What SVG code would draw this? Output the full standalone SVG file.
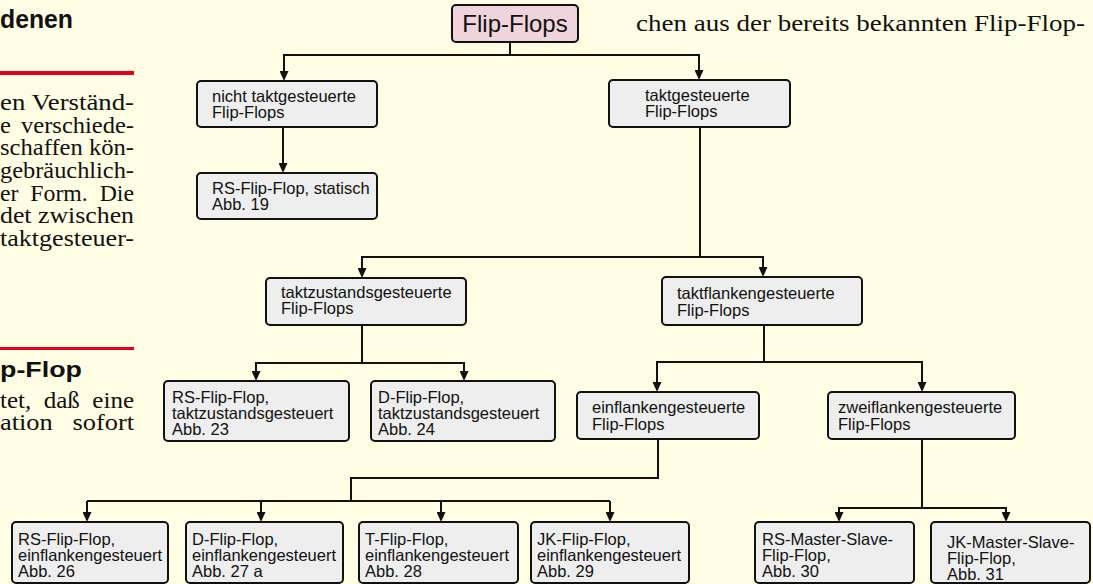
<svg xmlns="http://www.w3.org/2000/svg" width="1093" height="584" viewBox="0 0 1093 584">
<defs>
<style>
.bg{fill:#fffde3}
.box{fill:#eeeeee;stroke:#111;stroke-width:2}
.root{fill:#efd4dc;stroke:#111;stroke-width:2}
.t{font-family:"Liberation Sans",Arial,Helvetica,sans-serif;font-size:16.5px;fill:#111}
.rt{font-family:"Liberation Sans",Arial,Helvetica,sans-serif;font-size:24px;fill:#111;text-anchor:middle}
.c{fill:none;stroke:#111;stroke-width:2}
.ca{fill:none;stroke:#111;stroke-width:2;marker-end:url(#ah)}
.body{font-family:"Liberation Serif","Times New Roman",serif;font-size:24px;fill:#111}
.head{font-family:"Liberation Sans",Arial,Helvetica,sans-serif;font-weight:bold;fill:#111}
.red{fill:#e3001b}
</style>
<marker id="ah" viewBox="0 0 10 9" refX="7" refY="4.5" markerWidth="10" markerHeight="9" markerUnits="userSpaceOnUse" orient="auto">
<path d="M0,0 L10,4.5 L0,9 z" fill="#111"/>
</marker>
</defs>
<rect class="bg" x="0" y="0" width="1093" height="584"/>

<g id="page-text">
<text class="head" x="0" y="28" font-size="25" textLength="73" lengthAdjust="spacingAndGlyphs">denen</text>
<rect class="red" x="0" y="71" width="134" height="4"/>
<text class="body" x="0" y="110" textLength="134" lengthAdjust="spacingAndGlyphs">en Verständ-</text>
<text class="body" x="0" y="133" textLength="134" lengthAdjust="spacingAndGlyphs" word-spacing="4">e verschiede-</text>
<text class="body" x="0" y="155" textLength="134" lengthAdjust="spacingAndGlyphs">schaffen kön-</text>
<text class="body" x="0" y="178" textLength="134" lengthAdjust="spacingAndGlyphs">gebräuchlich-</text>
<text class="body" x="0" y="201" textLength="134" lengthAdjust="spacingAndGlyphs" word-spacing="6">er Form. Die</text>
<text class="body" x="0" y="223" textLength="134" lengthAdjust="spacingAndGlyphs">det zwischen</text>
<text class="body" x="0" y="246" textLength="134" lengthAdjust="spacingAndGlyphs">taktgesteuer-</text>
<rect class="red" x="0" y="347" width="134" height="3"/>
<text class="head" x="0" y="377" font-size="22" textLength="82" lengthAdjust="spacingAndGlyphs">p-Flop</text>
<text class="body" x="0" y="408" textLength="134" lengthAdjust="spacingAndGlyphs" word-spacing="6">tet, daß eine</text>
<text class="body" x="0" y="430" textLength="134" lengthAdjust="spacingAndGlyphs" word-spacing="12">ation sofort</text>
<text class="body" x="636" y="31" font-size="25" textLength="449" lengthAdjust="spacingAndGlyphs">chen aus der bereits bekannten Flip-Flop-</text>
</g>

<g id="connectors">
<path class="c" d="M510,42 V55"/>
<path class="ca" d="M510,55 H284 V78"/>
<path class="ca" d="M510,55 H699 V77"/>
<path class="ca" d="M283,127 V170"/>
<path class="c" d="M700,127 V257"/>
<path class="ca" d="M700,257 H362 V275"/>
<path class="ca" d="M700,257 H763 V274"/>
<path class="c" d="M362,325 V363"/>
<path class="ca" d="M362,363 H256 V378"/>
<path class="ca" d="M362,363 H464 V378"/>
<path class="c" d="M764,325 V362"/>
<path class="ca" d="M764,362 H657 V389"/>
<path class="ca" d="M764,362 H922 V389"/>
<path class="c" d="M658,439 V478 H351 V501"/>
<path class="c" d="M87,501 H610"/>
<path class="ca" d="M87,501 V519"/>
<path class="ca" d="M261,501 V519"/>
<path class="ca" d="M441,501 V519"/>
<path class="ca" d="M610,501 V519"/>
<path class="c" d="M922,439 V508"/>
<path class="ca" d="M922,508 H839 V519"/>
<path class="ca" d="M922,508 H1006 V519"/>
</g>

<g id="n-root"><rect class="root" x="452" y="5" width="126" height="37" rx="4"/><text class="rt" x="515" y="32">Flip-Flops</text></g>
<g id="n-nicht"><rect class="box" x="197" y="81" width="180" height="46" rx="4"/><text class="t" x="212" y="102">nicht taktgesteuerte</text><text class="t" x="212" y="118">Flip-Flops</text></g>
<g id="n-takt"><rect class="box" x="609" y="80" width="181" height="47" rx="4"/><text class="t" x="645" y="101">taktgesteuerte</text><text class="t" x="645" y="117">Flip-Flops</text></g>
<g id="n-rs-statisch"><rect class="box" x="197" y="173" width="180" height="46" rx="4"/><text class="t" x="212" y="194">RS-Flip-Flop, statisch</text><text class="t" x="212" y="210">Abb. 19</text></g>
<g id="n-taktzustand"><rect class="box" x="266" y="278" width="200" height="47" rx="4"/><text class="t" x="281" y="298">taktzustandsgesteuerte</text><text class="t" x="281" y="314">Flip-Flops</text></g>
<g id="n-taktflanken"><rect class="box" x="662" y="277" width="200" height="48" rx="4"/><text class="t" x="677" y="299">taktflankengesteuerte</text><text class="t" x="677" y="316">Flip-Flops</text></g>
<g id="n-rs-tz"><rect class="box" x="164" y="381" width="185" height="60" rx="4"/><text class="t" x="172" y="403">RS-Flip-Flop,</text><text class="t" x="172" y="419">taktzustandsgesteuert</text><text class="t" x="172" y="435">Abb. 23</text></g>
<g id="n-d-tz"><rect class="box" x="371" y="381" width="184" height="60" rx="4"/><text class="t" x="378" y="403">D-Flip-Flop,</text><text class="t" x="378" y="419">taktzustandsgesteuert</text><text class="t" x="378" y="435">Abb. 24</text></g>
<g id="n-einflanken"><rect class="box" x="577" y="392" width="182" height="47" rx="4"/><text class="t" x="592" y="413">einflankengesteuerte</text><text class="t" x="592" y="430">Flip-Flops</text></g>
<g id="n-zweiflanken"><rect class="box" x="828" y="392" width="187" height="47" rx="4"/><text class="t" x="838" y="413">zweiflankengesteuerte</text><text class="t" x="838" y="430">Flip-Flops</text></g>
<g id="n-rs-ef"><rect class="box" x="12" y="522" width="156" height="61" rx="4"/><text class="t" x="18" y="545">RS-Flip-Flop,</text><text class="t" x="18" y="561">einflankengesteuert</text><text class="t" x="18" y="577">Abb. 26</text></g>
<g id="n-d-ef"><rect class="box" x="186" y="522" width="157" height="61" rx="4"/><text class="t" x="192" y="545">D-Flip-Flop,</text><text class="t" x="192" y="561">einflankengesteuert</text><text class="t" x="192" y="577">Abb. 27 a</text></g>
<g id="n-t-ef"><rect class="box" x="359" y="522" width="159" height="61" rx="4"/><text class="t" x="365" y="545">T-Flip-Flop,</text><text class="t" x="365" y="561">einflankengesteuert</text><text class="t" x="365" y="577">Abb. 28</text></g>
<g id="n-jk-ef"><rect class="box" x="531" y="522" width="158" height="61" rx="4"/><text class="t" x="537" y="545">JK-Flip-Flop,</text><text class="t" x="537" y="561">einflankengesteuert</text><text class="t" x="537" y="577">Abb. 29</text></g>
<g id="n-rs-ms"><rect class="box" x="755" y="522" width="159" height="61" rx="4"/><text class="t" x="762" y="545">RS-Master-Slave-</text><text class="t" x="762" y="561">Flip-Flop,</text><text class="t" x="762" y="577">Abb. 30</text></g>
<g id="n-jk-ms"><rect class="box" x="931" y="522" width="159" height="61" rx="4"/><text class="t" x="947" y="548">JK-Master-Slave-</text><text class="t" x="947" y="564">Flip-Flop,</text><text class="t" x="947" y="580">Abb. 31</text></g>
</svg>
